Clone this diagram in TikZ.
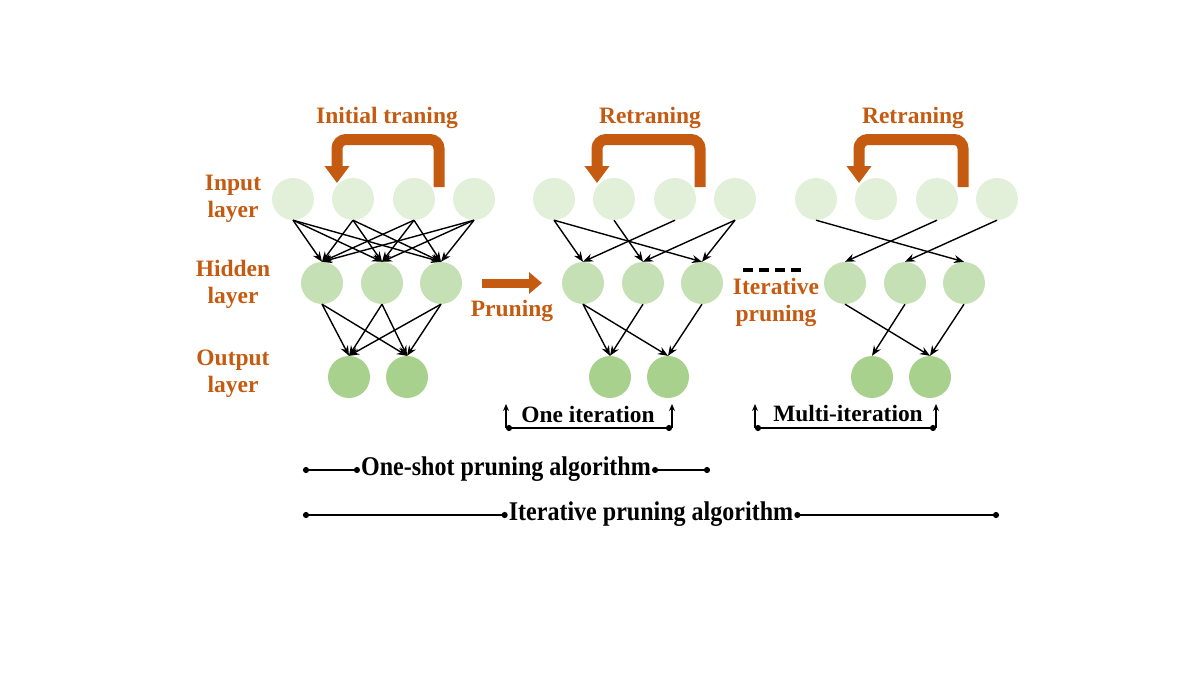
\documentclass[tikz,border=0pt]{standalone}
\usepackage{fontspec}
\setmainfont{Liberation Serif}
\newfontfamily\condfont[FakeStretch=0.89]{Liberation Serif}
\usetikzlibrary{arrows.meta}
\definecolor{rust}{HTML}{C55A11}
\definecolor{inpgreen}{HTML}{E2F0D9}
\definecolor{hidgreen}{HTML}{C5E0B4}
\definecolor{outgreen}{HTML}{A9D18E}
\begin{document}
\begin{tikzpicture}[x=1pt,y=-1pt,
        inp/.style={circle,fill=inpgreen,minimum size=42pt,inner sep=0pt},
        hid/.style={circle,fill=hidgreen,minimum size=42pt,inner sep=0pt},
        outp/.style={circle,fill=outgreen,minimum size=42pt,inner sep=0pt},
        edge/.style={-{Stealth[length=10pt,width=8pt]},line width=1.4pt},
        lbl/.style={text=rust,font=\bfseries\fontsize{23.5}{27}\selectfont,align=center},
        txt/.style={font=\bfseries\fontsize{23.4}{27}\selectfont,inner sep=1pt},
        algo/.style={font=\condfont\bfseries\fontsize{27}{30}\selectfont,inner sep=1pt},
        loopback/.style={rust,line width=11pt,rounded corners=9pt,-{Triangle[length=17pt,width=24pt]}},
        dotline/.style={{Circle[length=6pt,width=6pt]}-{Circle[length=6pt,width=6pt]},line width=1.8pt},
        upline/.style={-{Stealth[length=7pt,width=6pt]},line width=1.6pt}]
    \useasboundingbox (0,0) rectangle (1200,675);
    % three networks
    \foreach \n/\dx in {a/0,b/261,c/523}{
        \foreach \x [count=\i] in {293,353,414,474}
            \node[inp] (\n I\i) at (\x+\dx,199) {};
        \foreach \x [count=\i] in {322,382,441}
            \node[hid] (\n H\i) at (\x+\dx,283) {};
        \foreach \x [count=\i] in {349,407}
            \node[outp] (\n O\i) at (\x+\dx,377) {};
    }
    \foreach \s in {1,2,3,4}
        \foreach \t in {1,2,3}
            \draw[edge] (aI\s.south) -- (aH\t.north);
    \foreach \s in {1,2,3}
        \foreach \t in {1,2}
            \draw[edge] (aH\s.south) -- (aO\t.north);
    \foreach \s/\t in {1/1,1/3,2/2,3/1,4/2,4/3}
        \draw[edge] (bI\s.south) -- (bH\t.north);
    \foreach \s/\t in {1/1,1/2,2/1,3/2}
        \draw[edge] (bH\s.south) -- (bO\t.north);
    \foreach \s/\t in {1/3,3/1,4/2}
        \draw[edge] (cI\s.south) -- (cH\t.north);
    \foreach \s/\t in {1/2,2/1,3/2}
        \draw[edge] (cH\s.south) -- (cO\t.north);
    % training loops
    \foreach \r/\l in {439/337,700/597,963/859}
        \draw[loopback] (\r,187) |- (\l,139.5) -- (\l,183);
    \node[lbl] (initlbl) at (387,118) {Initial traning};
    \node[lbl] (retlbl1) at (650,118) {Retraning};
    \node[lbl] (retlbl2) at (913,118) {Retraning};
    % layer names
    \node[lbl] (inlbl) at (233,199) {Input\\layer};
    \node[lbl] (hidlbl) at (233,284) {Hidden\\layer};
    \node[lbl] (outlbl) at (233,374) {Output\\layer};
    % pruning steps
    \coordinate (prS) at (482,283);
    \coordinate (prE) at (542,283);
    \draw[rust,line width=9pt,-{Triangle[length=13pt,width=21pt]}] (prS) -- (prE);
    \node[lbl] (prlbl) at (512,311) {Pruning};
    \coordinate (dashS) at (743,270);
    \coordinate (dashE) at (804,270);
    \draw[line width=4pt,dash pattern=on 10pt off 6pt] (dashS) -- (dashE);
    \node[lbl] (itlbl) at (776,302) {Iterative\\pruning};
    % brackets
    \node[txt] (onelbl) at (588,414) {One iteration};
    \node[txt] (multlbl) at (848,414) {Multi-iteration};
    \foreach \nm/\x in {oiL/506,oiR/672,miL/755,miR/936}{
        \coordinate (\nm) at (\x,428);
        \coordinate (\nm t) at (\x,404);
        \draw[upline] (\nm) -- (\nm t);
    }
    \draw[dotline] (oiL) -- (oiR);
    \draw[dotline] (miL) -- (miR);
    % algorithms
    \node[algo] (oslbl) at (506,469) {One-shot pruning algorithm};
    \node[algo] (itplbl) at (651,514) {Iterative pruning algorithm};
    \coordinate (osL) at (303,470);
    \coordinate (osR) at (710,470);
    \coordinate (itL) at (303,515);
    \coordinate (itR) at (999,515);
    \draw[dotline] (osL) -- (oslbl.west |- osL);
    \draw[dotline] (oslbl.east |- osR) -- (osR);
    \draw[dotline] (itL) -- (itplbl.west |- itL);
    \draw[dotline] (itplbl.east |- itR) -- (itR);
\end{tikzpicture}
\end{document}
